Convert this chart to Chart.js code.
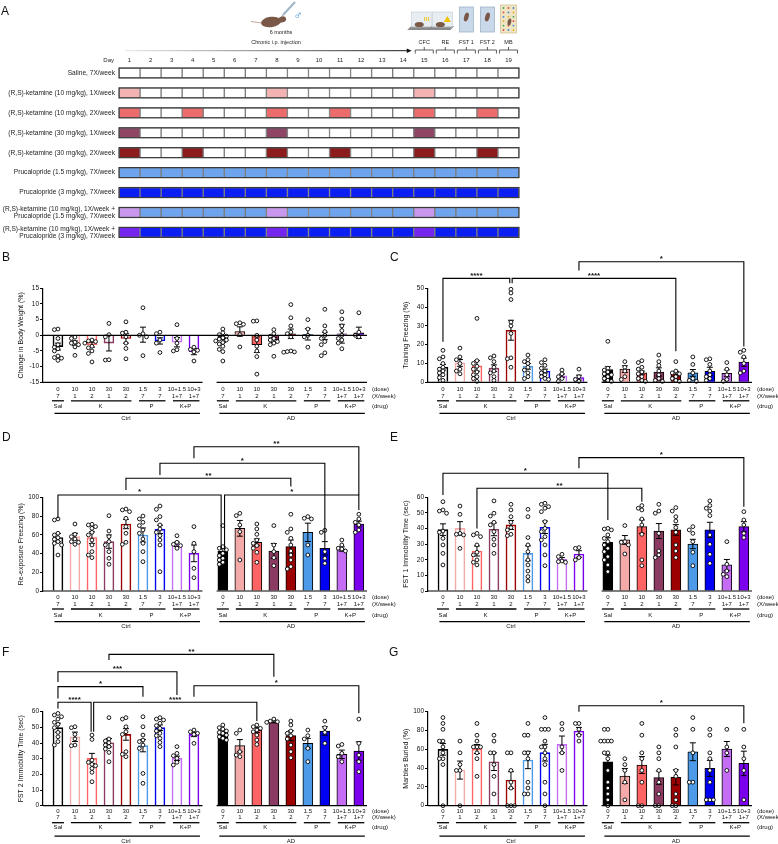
<!DOCTYPE html>
<html>
<head>
<meta charset="utf-8">
<title>Ketamine / prucalopride behaviour panels</title>
<script src="https://cdn.jsdelivr.net/npm/chart.js@4.4.1/dist/chart.umd.min.js"></script>
<style>
  html, body { margin: 0; padding: 0; background: #fff; }
  body { position: relative; width: 778px; height: 844px; overflow: hidden; }
  canvas { position: absolute; }
</style>
</head>
<body>
<script>
// ---------- panel A: dosing schedule ----------
var dayNumbers = [1, 2, 3, 4, 5, 6, 7, 8, 9, 10, 11, 12, 13, 14, 15, 16, 17, 18, 19];
var rowLabels = [
  'Saline, 7X/week',
  '(R,S)-ketamine (10 mg/kg), 1X/week',
  '(R,S)-ketamine (10 mg/kg), 2X/week',
  '(R,S)-ketamine (30 mg/kg), 1X/week',
  '(R,S)-ketamine (30 mg/kg), 2X/week',
  'Prucalopride (1.5 mg/kg), 7X/week',
  'Prucalopride (3 mg/kg), 7X/week',
  ['(R,S)-ketamine (10 mg/kg), 1X/week +', 'Prucalopride (1.5 mg/kg), 7X/week'],
  ['(R,S)-ketamine (10 mg/kg), 1X/week +', 'Prucalopride (3 mg/kg), 7X/week']
];
var ketDays1X = [1, 8, 15];
var ketDays2X = [1, 4, 8, 11, 15, 18];
var rowDoseDays = [[], ketDays1X, ketDays2X, ketDays1X, ketDays2X, [], [], ketDays1X, ketDays1X];
var testNames = ['CFC', 'RE', 'FST 1', 'FST 2', 'MB'];
var testDays = [15, 16, 17, 18, 19];

var rowBaseColor = ['#ffffff', '#ffffff', '#ffffff', '#ffffff', '#ffffff', '#6ea4ee', '#0b1ff2', '#6ea4ee', '#0b1ff2'];
var rowDoseColor = ['#ffffff', '#f4b3b3', '#ec6b6b', '#8f4565', '#8c1b1b', '#6ea4ee', '#0b1ff2', '#c898ee', '#7426ee'];

// ---------- panels B-G: shared x categories ----------
var doses = ['0', '10', '10', '30', '30', '1.5', '3', '10+1.5', '10+3'];
var perWeek = ['7', '1', '2', '1', '2', '7', '7', '1+7', '1+7'];
var drugGroups = [['Sal', 0, 0], ['K', 1, 4], ['P', 5, 6], ['K+P', 7, 8]];
var cohorts = ['Ctrl', 'AD'];
var barColors = ['#000000', '#f5aaaa', '#ff6363', '#8b3a62', '#9c0000', '#4d9be8', '#0000f2', '#c56cf5', '#7a00ee'];

// B: change in body weight (%)
var bwCtrlMean = [-3.6, -2.5, -3.0, -2.5, -1.0, 0.2, -1.8, -2.2, -5.2];
var bwCtrlSem = [1.1, 0.7, 0.8, 2.5, 1.5, 2.4, 1.0, 1.5, 1.0];
var bwAdMean = [-1.5, 1.2, -3.0, -1.5, 0.5, 0.3, -0.2, 0.5, 0.8];
var bwAdSem = [0.8, 1.5, 2.5, 0.8, 1.5, 1.8, 1.2, 3.0, 1.8];
var bwCtrlPts = [
  [2.0, 1.8, -1.0, -3.0, -3.8, -4.3, -5.0, -6.6, -7.1, -8.0, -7.3],
  [-0.6, -1.0, -2.2, -2.5, -3.0, -3.7, -6.4],
  [-1.5, -1.8, -2.0, -2.5, -3.5, -4.0, -5.0, -5.8, -8.5],
  [3.8, 0.2, -0.5, -7.9, -7.8],
  [4.3, 1.0, 0.7, -0.5, -2.5, -4.2, -7.5],
  [8.8, 0.5, 0.0, -0.5, -6.5],
  [1.0, 0.5, -1.5, -2.5, -5.5],
  [3.4, -1.0, -2.5, -5.0, -4.6],
  [-3.8, -4.5, -5.3, -4.8, -8.2]
];
var bwAdPts = [
  [2.0, 0.8, 0.2, -0.3, -0.8, -1.2, -1.5, -1.8, -2.3, -2.8, -3.5, -4.5, -5.2, -8.2],
  [4.0, 3.7, 3.5, 0.2, -3.7],
  [4.6, 4.5, 0.0, -1.5, -3.5, -5.0, -6.8, -12.4],
  [1.8, 0.5, -0.3, -1.0, -1.5, -2.0, -2.5, -3.0, -6.7],
  [9.8, 5.6, 3.0, 1.0, 0.5, -0.5, -5.0, -5.3, -5.4, -5.2],
  [5.0, 2.0, 0.0, -0.5, -3.8],
  [8.3, 3.0, 1.2, 0.0, -1.0, -2.0, -3.0, -5.6, -6.5],
  [7.5, 5.2, 3.0, 1.5, 0.0, -1.0, -1.5, -2.5, -4.3],
  [7.2, 1.0, 0.0, -0.5]
];

// C: training freezing (%)
var tfCtrlMean = [8.0, 10.3, 8.7, 7.5, 27.7, 8.5, 6.0, 3.5, 2.5];
var tfCtrlSem = [1.5, 1.8, 2.8, 1.8, 5.3, 1.5, 1.0, 0.9, 1.3];
var tfAdMean = [6.8, 7.0, 5.0, 5.5, 4.5, 5.0, 5.8, 4.8, 10.7];
var tfAdSem = [1.5, 1.8, 1.0, 2.2, 1.3, 1.8, 2.2, 1.8, 2.2];
var tfCtrlPts = [
  [17, 13.5, 12.5, 10, 8, 7, 6, 5, 4, 2.5, 1],
  [18.2, 13.5, 12, 10, 7, 6, 4.5],
  [34, 11.5, 10, 8.5, 7, 5.5, 4, 3, 2, 0.5],
  [14, 13, 11, 8, 6, 5, 3, 1],
  [49.5, 47.5, 44, 32, 30, 26, 13, 12.5, 8],
  [14.5, 12, 11, 10, 8, 6.5, 5, 3, 2],
  [12, 10.5, 9, 7.5, 6, 5, 4, 3, 2, 1.5],
  [6.5, 4.5, 3, 2, 0.5],
  [7, 3, 1.5, 0.5]
];
var tfAdPts = [
  [21.8, 7.5, 6.5, 5.5, 4.5, 4, 3, 2, 1, 0.5],
  [11, 8, 6, 3, 1.5],
  [11.5, 10.5, 8, 7, 5.5, 4.5, 3, 2, 1, 0.5],
  [14.5, 11, 9, 6, 4, 2, 1, 0.5],
  [11, 6, 5, 4.5, 3, 2, 1, 0.5],
  [13.5, 9.5, 5, 2, 1, 0.5],
  [12.5, 12, 9.5, 6, 4, 3, 2, 1],
  [10.5, 7, 4, 1.5, 0.5],
  [17, 16, 13.5, 10, 6, 5]
];

// D: re-exposure freezing (%)
var reCtrlMean = [57, 58, 57, 52.7, 71.5, 59.8, 65.8, 49.8, 40.2];
var reCtrlSem = [4.4, 3.6, 6.2, 7.1, 5.0, 7.5, 4.4, 2.3, 8.9];
var reAdMean = [42.7, 66.9, 52, 42.7, 47.3, 62.6, 45.6, 44.8, 71.5];
var reAdSem = [4.4, 8.4, 3.6, 8.0, 7.1, 9.8, 7.1, 2.3, 3.0];
var reCtrlPts = [
  [76.9, 75.8, 61.6, 59.8, 56.9, 55.2, 52.7, 50.9, 49.1, 38.4],
  [71.5, 60.5, 58, 55.5, 52.7, 52, 49.8],
  [71.2, 70.5, 68.7, 66.9, 62.6, 59.8, 54.4, 49.1, 42.0, 38.4, 35.6],
  [80.4, 64, 58, 52.7, 49.1, 42, 34.9, 28.5],
  [87.5, 86.5, 84.7, 77.6, 68.7, 61.6, 52, 49.8],
  [80, 76.9, 73.3, 69.8, 65.1, 61.6, 55.5, 50.9, 42, 31.3],
  [90.7, 87.2, 79.4, 75.8, 70.5, 66.2, 62.6, 59.1, 54.4, 49.1, 20.6],
  [59, 52, 49.8, 48.5, 45.6],
  [68.7, 50.9, 42, 24.2, 14.2]
];
var reAdPts = [
  [69.8, 47.3, 45.6, 44, 40.2, 37.7, 34.9, 33.1, 30.6, 28.5],
  [82.9, 80.4, 70.5, 63.3, 33.1],
  [71.5, 66.2, 60.5, 54.4, 50.9, 48.5, 45.6, 41.3, 30.6],
  [69.8, 49.1, 42, 35.6, 27],
  [81.9, 66.2, 62.6, 56.2, 49.1, 42.7, 38.4, 33.1, 26, 23.5],
  [79.4, 77.6, 76.9, 49.1, 38.4],
  [64.8, 62.6, 42, 34.9, 29.5],
  [54.4, 49.1, 45.6, 44.8, 42.7],
  [81.9, 76.9, 73.3, 70.5, 65.1, 62.6]
];

// E: FST 1 immobility (sec)
var f1CtrlMean = [39.3, 40.1, 25.6, 39.5, 42.3, 24.1, 40.8, 20.3, 23.7];
var f1CtrlSem = [3.7, 4.3, 3.2, 4.1, 2.9, 4.8, 4.0, 1.1, 2.1];
var f1AdMean = [31.2, 32.7, 41.2, 38.4, 39.1, 30.1, 39.1, 16.7, 41.2];
var f1AdSem = [2.9, 2.8, 4.3, 4.8, 3.4, 3.0, 4.9, 3.5, 3.2];
var f1CtrlPts = [
  [57.2, 51.9, 51.2, 49.8, 38.4, 37.6, 33.7, 29.5, 24.1, 16.7],
  [54.4, 49.1, 36.9, 36.3, 35.9, 27.3],
  [36.9, 35.9, 34.8, 29.5, 24.8, 23.1, 19.9, 18.4, 16.7],
  [57.7, 49.8, 48, 44, 42.3, 38, 33.1, 29.5, 24.1],
  [55.5, 51.9, 47.6, 44, 40.6, 39.1, 36.3, 35.4],
  [52.3, 47.6, 34.2, 29.5, 25.2, 19.9, 16.7, 12.8, 9.2, 6.4],
  [56.2, 55.5, 54, 53, 50.8, 44.4, 40.1, 38, 34.8, 32.7, 29.5, 23.1, 16.2],
  [23.5, 22, 19.2, 18.8, 18.4],
  [27.8, 27.3, 21.4, 19.9]
];
var f1AdPts = [
  [40.1, 39.7, 39.1, 35.9, 33.7, 31.6, 29.5, 27.3, 25.2, 22, 19.9, 16.7, 12.4],
  [41.9, 31.6, 31.2, 29.5, 23.7],
  [54.7, 53, 51.9, 46.1, 42.3, 36.3, 19.9, 16.2],
  [55.5, 51.2, 49.8, 36.9, 25.6, 23.1, 21.4],
  [53.4, 51.2, 47.6, 44.8, 40.6, 37.6, 29.5, 25.6, 21.4],
  [41.2, 39.1, 36.9, 31.6, 24.8, 16.2],
  [57.7, 54.7, 53, 51.2, 48.3, 35.9, 29.9, 23.5, 17.7],
  [31.6, 17.1, 12.8, 10.7, 9.2],
  [50.8, 45.5, 42.3, 36.9, 34.2]
];

// F: FST 2 immobility (sec)
var f2CtrlMean = [49.8, 44, 30.2, 40.2, 45.5, 38.3, 49.8, 30.2, 45.5];
var f2CtrlSem = [2.9, 3.0, 3.2, 2.7, 3.7, 3.9, 1.8, 1.4, 1.4];
var f2AdMean = [46.8, 38.3, 48.3, 53.6, 44.7, 39.8, 47.7, 32.8, 34.9];
var f2AdSem = [1.4, 3.9, 1.5, 0.7, 3.2, 3.2, 2.7, 2.7, 5.9];
var f2CtrlPts = [
  [58.9, 57.9, 56.8, 55.3, 53.2, 51.9, 49.8, 46.8, 44, 40.9, 38.7],
  [50.4, 49.8, 45.5, 42.6, 38.7, 38.3],
  [45.1, 42.3, 29.1, 27.7, 26.4, 25.5, 23.8, 21.3, 15.3],
  [56.2, 42.6, 41.3, 40.2, 38.7, 37.7, 36.2, 34, 28.1],
  [56.2, 55.3, 50.4, 47.2, 45.5, 34.5, 32.8, 31.3],
  [56.8, 50.4, 45.1, 41.9, 40.9, 38.7, 36.6, 20.6, 14.3],
  [56.2, 55.3, 54.7, 52.6, 51.1, 49.4, 47.7, 46.2, 44.7, 43, 40.4, 37.7],
  [37.7, 33.4, 31.9, 30.2, 27.7, 26],
  [48.3, 47.2, 46.2, 45.5, 39.8]
];
var f2AdPts = [
  [51.5, 49.8, 48.9, 47.7, 46.8, 46.2, 45.1, 44, 43, 41.9],
  [48.3, 46.2, 34.5, 32.3, 31.3],
  [51.5, 50.4, 49.4, 48.3, 47.2, 45.1, 41.9, 39.1],
  [55.3, 54, 53.6, 53.2],
  [54, 51.5, 47.7, 46.2, 44.7, 42.6, 38.7, 34.5, 30.6],
  [48.3, 44.7, 42.6, 36.6, 28.1],
  [54, 49.8, 46.8, 39.8],
  [39.1, 38.1, 33.4, 31.3, 28.1],
  [55.3, 39.8, 32.3, 28.1, 21.7]
];

// G: marbles buried (%)
var mbCtrlMean = [59.9, 37.9, 60.3, 46.8, 27.3, 48.6, 56.4, 65.2, 79.4];
var mbCtrlSem = [6.2, 9.6, 4.8, 9.4, 8.9, 9.2, 8.9, 8.9, 3.9];
var mbAdMean = [46.8, 31.6, 43.3, 29.8, 30.1, 57.4, 39.7, 60.3, 45];
var mbAdSem = [7, 8, 9, 7, 8, 9.5, 8.5, 8, 13];
var mbCtrlPts = [
  [93.75, 87.5, 81.25, 68.75, 68.75, 62.5, 56.25, 50, 50, 43.75, 0],
  [68.75, 56.25, 43.75, 37.5, 37.5, 0],
  [87.5, 75, 68.75, 62.5, 62.5, 62.5, 56.25, 50, 31.25],
  [75, 68.75, 56.25, 56.25, 43.75, 31.25, 12.5],
  [56.25, 56.25, 37.5, 25, 18.75, 0, 0, 0],
  [87.5, 75, 75, 56.25, 56.25, 50, 25, 18.75, 12.5, 12.5],
  [93.75, 81.25, 81.25, 81.25, 68.75, 62.5, 62.5, 56.25, 50, 43.75, 25, 12.5, 0],
  [87.5, 81.25, 62.5, 56.25, 37.5],
  [87.5, 87.5, 81.25, 75, 68.75]
];
var mbAdPts = [
  [81.25, 81.25, 68.75, 68.75, 68.75, 68.75, 56.25, 56.25, 50, 37.5, 25, 18.75, 12.5, 6.25, 0],
  [50, 43.75, 37.5, 25, 6.25],
  [87.5, 75, 56.25, 50, 37.5, 25, 0, 0],
  [62.5, 56.25, 50, 37.5, 25, 12.5, 0, 0],
  [81.25, 75, 62.5, 37.5, 31.25, 12.5, 6.25, 0, 0],
  [93.75, 81.25, 56.25, 25, 25],
  [81.25, 75, 56.25, 50, 37.5, 25, 6.25, 6.25, 6.25],
  [81.25, 62.5, 56.25, 37.5],
  [81.25, 62.5, 50, 37.5, 6.25]
];

// significance brackets: [from bar, to bar, line level, left tip, right tip, label]
var tfBrackets = [[0, 3.93, 55.3, 21.6, 52.7, '****'], [4.07, 13.7, 55.3, 52.7, 16.5, '****'], [8, 17.7, 64.1, 59.5, 19, '*']];
var reBrackets = [[0, 9.6, 102.5, 77.6, 43.8, '*'], [9.8, 17.7, 102.5, 43.8, 86.5, '*'], [4, 13.7, 120.3, 107.8, 111.4, '**'],
                  [6, 15.7, 136.3, 123.8, 52.7, '*'], [8, 17.7, 154, 141.6, 102.5, '**']];
var f1Brackets = [[0, 9.7, 75.4, 61.5, 45.5, '*'], [2, 11.7, 65.8, 40.1, 57.2, '**'], [8, 17.7, 85.4, 78.6, 54, '*']];
var f2Brackets = [[0, 1.95, 66, 62.1, 47.2, '****'], [2.1, 11.7, 66, 47.2, 54, '****'], [0, 5, 76, 68.5, 69.6, '*'],
                  [0, 7, 85.5, 79, 70.6, '***'], [3, 12.7, 96.6, 93, 82.3, '**'], [8, 17.7, 76.6, 69.6, 59, '*']];
var mbBrackets = [[8, 17.7, 106.4, 100, 87.6, '*']];

var AD_SHIFT = 9.7;
var X_MIN = -0.88, X_MAX = 18.18;
var FONT = '"Liberation Sans", Arial, sans-serif';
Chart.defaults.font.family = FONT;
Chart.defaults.color = '#111';

var panels = [
  {id: 'cB', letter: 'B', left: 0, top: 250, w: 400, h: 190, axisTop: 288.3, axisBot: 382.3, yMin: -15, yMax: 15, step: 5,
   title: 'Change in Body Weight (%)', mean: [bwCtrlMean, bwAdMean], sem: [bwCtrlSem, bwAdSem], pts: [bwCtrlPts, bwAdPts],
   brackets: [], rows: [7, 14, 18.5, 24.5, 31, 36.5], letterX: 2, letterY: 8},
  {id: 'cC', letter: 'C', left: 385, top: 250, w: 393, h: 190, axisTop: 288.3, axisBot: 382.3, yMin: 0, yMax: 50, step: 10,
   title: 'Training Freezing (%)', mean: [tfCtrlMean, tfAdMean], sem: [tfCtrlSem, tfAdSem], pts: [tfCtrlPts, tfAdPts],
   brackets: tfBrackets, rows: [7, 14, 18.5, 24.5, 31, 36.5], letterX: 5, letterY: 8},
  {id: 'cD', letter: 'D', left: 0, top: 430, w: 400, h: 210, axisTop: 497.3, axisBot: 591, yMin: 0, yMax: 100, step: 20,
   title: 'Re-exposure Freezing (%)', mean: [reCtrlMean, reAdMean], sem: [reCtrlSem, reAdSem], pts: [reCtrlPts, reAdPts],
   brackets: reBrackets, rows: [6.3, 13.3, 18, 24, 30.7, 35.5], letterX: 2, letterY: 8},
  {id: 'cE', letter: 'E', left: 385, top: 430, w: 393, h: 210, axisTop: 497.3, axisBot: 591, yMin: 0, yMax: 60, step: 10,
   title: 'FST 1 Immobility Time (sec)', mean: [f1CtrlMean, f1AdMean], sem: [f1CtrlSem, f1AdSem], pts: [f1CtrlPts, f1AdPts],
   brackets: f1Brackets, rows: [6.3, 13.3, 18, 24, 30.7, 35.5], letterX: 5, letterY: 8},
  {id: 'cF', letter: 'F', left: 0, top: 640, w: 400, h: 204, axisTop: 711.7, axisBot: 805.7, yMin: 0, yMax: 60, step: 10,
   title: 'FST 2 Immobility Time (sec)', mean: [f2CtrlMean, f2AdMean], sem: [f2CtrlSem, f2AdSem], pts: [f2CtrlPts, f2AdPts],
   brackets: f2Brackets, rows: [6, 12, 17, 21.5, 30.5, 36], letterX: 2, letterY: 13},
  {id: 'cG', letter: 'G', left: 385, top: 640, w: 393, h: 204, axisTop: 711.7, axisBot: 805.7, yMin: 0, yMax: 100, step: 20,
   title: 'Marbles Buried (%)', mean: [mbCtrlMean, mbAdMean], sem: [mbCtrlSem, mbAdSem], pts: [mbCtrlPts, mbAdPts],
   brackets: mbBrackets, rows: [6, 12, 17, 21.5, 30.5, 36], letterX: 4, letterY: 13}
];
var panelById = {};
panels.forEach(function (p) { panelById[p.id] = p; });

function addCanvas(id, left, top, w, h) {
  var c = document.createElement('canvas');
  c.id = id; c.width = w; c.height = h;
  c.style.left = left + 'px'; c.style.top = top + 'px';
  c.style.width = w + 'px'; c.style.height = h + 'px';
  document.body.appendChild(c);
  return c;
}

function seg(ctx, x0, y0, x1, y1) {
  ctx.beginPath(); ctx.moveTo(x0, y0); ctx.lineTo(x1, y1); ctx.stroke();
}

// spread dots sideways so they do not sit on top of each other
function swarm(vals, unitPx) {
  var out = vals.map(function () { return 0; });
  var placed = [];
  var cand = [0, -0.21, 0.21, -0.42, 0.42, -0.6, 0.6];
  var order = vals.map(function (v, i) { return i; }).sort(function (a, b) { return vals[b] - vals[a]; });
  order.forEach(function (i) {
    var py = vals[i] * unitPx;
    for (var k = 0; k < cand.length; k++) {
      var c = cand[k];
      var ok = placed.every(function (q) { return Math.hypot((q.x - c) * 17, q.y - py) >= 3.5; });
      if (ok || k === cand.length - 1) { out[i] = c; placed.push({x: c, y: py}); break; }
    }
  });
  return out;
}

var scheduleDeco = {
  id: 'scheduleDeco',
  afterDraw: function (chart) {
    var ctx = chart.ctx, x = chart.scales.x, y = chart.scales.y;
    ctx.save();
    // dark outline round every schedule row
    ctx.strokeStyle = '#3a3a3a'; ctx.lineWidth = 1.2;
    rowLabels.forEach(function (_, r) {
      var yc = y.getPixelForValue(r);
      ctx.strokeRect(x.getPixelForValue(0), yc - 5, x.getPixelForValue(19) - x.getPixelForValue(0), 10);
    });
    // day numbers
    ctx.fillStyle = '#222';
    ctx.font = '6px ' + FONT; ctx.textAlign = 'center'; ctx.textBaseline = 'middle';
    dayNumbers.forEach(function (d) { ctx.fillText(String(d), x.getPixelForValue(d - 0.5), 60); });
    ctx.textAlign = 'right';
    ctx.fillText('Day', 114, 60);
    // injection arrow
    var ax0 = x.getPixelForValue(0) + 6, ax1 = x.getPixelForValue(14) - 2;
    var g = ctx.createLinearGradient(ax0, 0, ax1, 0);
    g.addColorStop(0, '#e6e6e6'); g.addColorStop(1, '#111');
    ctx.strokeStyle = g; ctx.lineWidth = 1;
    seg(ctx, ax0, 50.7, ax1 - 3, 50.7);
    ctx.fillStyle = '#111';
    ctx.beginPath(); ctx.moveTo(ax1, 50.7); ctx.lineTo(ax1 - 5, 48.4); ctx.lineTo(ax1 - 5, 53); ctx.closePath(); ctx.fill();
    ctx.font = '5.5px ' + FONT; ctx.textAlign = 'center'; ctx.fillStyle = '#222';
    ctx.fillText('6 months', 281, 32.5);
    ctx.fillText('Chronic i.p. injection', 276, 42.5);
    // mouse with syringe
    ctx.strokeStyle = '#b88f86'; ctx.lineWidth = 0.8;
    seg(ctx, 262, 23, 251, 21.5);
    ctx.fillStyle = '#7a5847';
    ctx.beginPath(); ctx.ellipse(271, 22, 10, 5.2, -0.12, 0, Math.PI * 2); ctx.fill();
    ctx.beginPath(); ctx.ellipse(282, 19.5, 4.2, 3, -0.3, 0, Math.PI * 2); ctx.fill();
    ctx.strokeStyle = '#9fb4c8'; ctx.lineWidth = 2;
    seg(ctx, 283, 15, 295, 2);
    ctx.strokeStyle = '#666'; ctx.lineWidth = 0.6;
    seg(ctx, 281, 17, 283, 15);
    ctx.fillStyle = '#3d8fd6'; ctx.font = 'bold 12px ' + FONT;
    ctx.fillText('\u2642', 298, 16);
    // behaviour test icons, labels and brackets
    testDays.forEach(function (d, k) {
      var xl = x.getPixelForValue(d - 1), xr = x.getPixelForValue(d), xc = (xl + xr) / 2;
      ctx.fillStyle = '#222'; ctx.font = '5.5px ' + FONT; ctx.textAlign = 'center';
      ctx.fillText(testNames[k], xc, 42.5);
      ctx.strokeStyle = '#333'; ctx.lineWidth = 0.8;
      ctx.beginPath();
      ctx.moveTo(xl + 1.5, 53.5); ctx.lineTo(xl + 1.5, 50); ctx.lineTo(xr - 1.5, 50); ctx.lineTo(xr - 1.5, 53.5);
      ctx.moveTo(xc, 50); ctx.lineTo(xc, 47);
      ctx.stroke();
    });
    var cx = function (d) { return x.getPixelForValue(d - 0.5); };
    [15, 16].forEach(function (d, k) {
      var c = cx(d) - 5;
      ctx.fillStyle = '#8a8a8a';
      ctx.beginPath(); ctx.moveTo(c - 12, 30); ctx.lineTo(c + 10, 30); ctx.lineTo(c + 14, 26); ctx.lineTo(c - 8, 26); ctx.closePath(); ctx.fill();
      ctx.fillStyle = 'rgba(225,232,238,0.8)'; ctx.strokeStyle = '#c4ccd3'; ctx.lineWidth = 0.6;
      ctx.fillRect(c - 8, 12, 20, 15); ctx.strokeRect(c - 8, 12, 20, 15);
      ctx.fillStyle = '#7a5847';
      ctx.beginPath(); ctx.ellipse(c, 24.5, 4.5, 2.6, 0, 0, Math.PI * 2); ctx.fill();
      ctx.fillStyle = '#f2c200';
      if (k === 0) { ctx.fillRect(c + 5, 17, 0.8, 4); ctx.fillRect(c + 7, 17, 0.8, 4); ctx.fillRect(c + 9, 17, 0.8, 4); }
      else { ctx.beginPath(); ctx.moveTo(c + 7, 16); ctx.lineTo(c + 10.5, 22); ctx.lineTo(c + 3.5, 22); ctx.closePath(); ctx.fill(); }
    });
    [17, 18].forEach(function (d) {
      var c = cx(d);
      ctx.fillStyle = '#c9d9ea'; ctx.strokeStyle = '#9fb4c8'; ctx.lineWidth = 0.8;
      ctx.fillRect(c - 7, 7, 14, 25); ctx.strokeRect(c - 7, 7, 14, 25);
      ctx.fillStyle = '#7a5847';
      ctx.beginPath(); ctx.ellipse(c, 17, 2.2, 4.5, 0.3, 0, Math.PI * 2); ctx.fill();
    });
    var mc = cx(19);
    ctx.fillStyle = '#efe4c3'; ctx.strokeStyle = '#d3c496'; ctx.lineWidth = 0.8;
    ctx.fillRect(mc - 8, 5, 16, 28); ctx.strokeRect(mc - 8, 5, 16, 28);
    var marbleCols = ['#3aa35a', '#d94a3a', '#3d7fd6', '#e0b21f'];
    for (var r = 0; r < 6; r++) for (var c2 = 0; c2 < 3; c2++) {
      ctx.fillStyle = marbleCols[(r + c2) % 4];
      ctx.beginPath(); ctx.arc(mc - 5 + c2 * 5, 8 + r * 4.4, 0.9, 0, Math.PI * 2); ctx.fill();
    }
    ctx.fillStyle = '#7a5847';
    ctx.beginPath(); ctx.ellipse(mc + 1, 22, 1.8, 3.5, 0.2, 0, Math.PI * 2); ctx.fill();
    ctx.fillStyle = '#111'; ctx.font = '12px ' + FONT; ctx.textAlign = 'left'; ctx.textBaseline = 'middle';
    ctx.fillText('A', 1, 12);
    ctx.restore();
  }
};

addCanvas('cA', 0, 0, 778, 250);
new Chart(document.getElementById('cA'), {
  type: 'bar',
  data: {
    labels: rowLabels,
    datasets: dayNumbers.map(function (d) {
      return {
        label: 'Day ' + d,
        data: rowLabels.map(function () { return [d - 1, d]; }),
        backgroundColor: rowLabels.map(function (_, r) {
          return rowDoseDays[r].indexOf(d) >= 0 ? rowDoseColor[r] : rowBaseColor[r];
        }),
        borderColor: '#7d7d7d', borderWidth: 1, borderSkipped: false,
        barThickness: 10, grouped: false
      };
    })
  },
  options: {
    indexAxis: 'y', responsive: false, animation: false,
    layout: {padding: {top: 0, bottom: 5.4, left: 0, right: 259}},
    scales: {
      x: {
        type: 'linear', position: 'top', min: 0, max: 19,
        grid: {display: false, drawTicks: false}, border: {display: false},
        ticks: {display: false},
        afterFit: function (s) { s.height = 63; }
      },
      y: {
        grid: {display: false, drawTicks: false}, border: {display: false},
        ticks: {autoSkip: false, font: {size: 6.6, lineHeight: 1.1}, padding: 4, color: '#222'},
        afterFit: function (s) { s.width = 119; }
      }
    },
    plugins: {legend: {display: false}, tooltip: {enabled: false}}
  },
  plugins: [scheduleDeco]
});

var panelDeco = {
  id: 'panelDeco',
  afterDatasetDraw: function (chart, args) {
    if (args.index !== 1) return;
    var p = panelById[chart.canvas.id], ctx = chart.ctx, xs = chart.scales.x, ys = chart.scales.y;
    ctx.save();
    ctx.strokeStyle = '#000'; ctx.lineWidth = 1;
    [0, 1].forEach(function (c) {
      p.mean[c].forEach(function (m, i) {
        var px = xs.getPixelForValue((c ? AD_SHIFT : 0) + i);
        var t = ys.getPixelForValue(m + p.sem[c][i]), b = ys.getPixelForValue(m - p.sem[c][i]);
        ctx.beginPath();
        ctx.moveTo(px, t); ctx.lineTo(px, b);
        ctx.moveTo(px - 3, t); ctx.lineTo(px + 3, t);
        ctx.moveTo(px - 3, b); ctx.lineTo(px + 3, b);
        ctx.stroke();
      });
    });
    ctx.restore();
  },
  afterDraw: function (chart) {
    var p = panelById[chart.canvas.id], ctx = chart.ctx, a = chart.chartArea;
    var xs = chart.scales.x, ys = chart.scales.y;
    var X = function (v) { return xs.getPixelForValue(v); }, Y = function (v) { return ys.getPixelForValue(v); };
    ctx.save();
    ctx.strokeStyle = '#000'; ctx.fillStyle = '#111';
    // broken x axis, and the zero line where values go negative
    ctx.lineWidth = 1.2;
    seg(ctx, a.left, a.bottom, X(8.5), a.bottom);
    seg(ctx, X(AD_SHIFT - 0.37), a.bottom, a.right, a.bottom);
    if (p.yMin < 0) seg(ctx, a.left, Y(0), a.right, Y(0));
    // dose / frequency / drug / cohort labels
    var r = p.rows, b = a.bottom;
    ctx.font = '6px ' + FONT; ctx.textAlign = 'center'; ctx.textBaseline = 'middle';
    [0, AD_SHIFT].forEach(function (sh, c) {
      doses.forEach(function (d, i) {
        ctx.fillText(d, X(sh + i), b + r[0]);
        ctx.fillText(perWeek[i], X(sh + i), b + r[1]);
      });
      ctx.lineWidth = 1.3;
      drugGroups.forEach(function (gp) {
        var single = gp[1] === gp[2];
        seg(ctx, X(sh + gp[1]) - (single ? 6 : 4), b + r[2], X(sh + gp[2]) + (single ? 6 : 5.5), b + r[2]);
        ctx.fillText(gp[0], (X(sh + gp[1]) + X(sh + gp[2])) / 2, b + r[3]);
      });
      seg(ctx, X(sh) - 3.5, b + r[4], X(sh + 8) + 6, b + r[4]);
      ctx.fillText(cohorts[c], X(sh + 4), b + r[5]);
    });
    ctx.textAlign = 'left';
    ctx.fillText('(dose)', a.right + 5, b + r[0]);
    ctx.fillText('(X/week)', a.right + 5, b + r[1]);
    ctx.fillText('(drug)', a.right + 5, b + r[3]);
    // significance brackets
    ctx.lineWidth = 1.1; ctx.textAlign = 'center'; ctx.textBaseline = 'alphabetic';
    ctx.font = 'bold 8px ' + FONT;
    p.brackets.forEach(function (k) {
      var x0 = X(k[0]), x1 = X(k[1]), yl = Y(k[2]);
      ctx.beginPath();
      ctx.moveTo(x0, Y(k[3])); ctx.lineTo(x0, yl); ctx.lineTo(x1, yl); ctx.lineTo(x1, Y(k[4]));
      ctx.stroke();
      ctx.fillText(k[5], (x0 + x1) / 2, yl - 0.5);
    });
    ctx.font = '12px ' + FONT; ctx.textAlign = 'left'; ctx.textBaseline = 'middle';
    ctx.fillText(p.letter, p.letterX, p.letterY);
    ctx.restore();
  }
};

panels.forEach(function (p) {
  var canvas = addCanvas(p.id, p.left, p.top, p.w, p.h);
  var unitPx = (p.axisBot - p.axisTop) / (p.yMax - p.yMin);
  var bars = [], bg = [], bc = [], bw = [], dots = [];
  [0, 1].forEach(function (c) {
    p.mean[c].forEach(function (m, i) {
      var x = (c ? AD_SHIFT : 0) + i;
      bars.push({x: x, y: m});
      bg.push(c ? barColors[i] : '#ffffff');
      bc.push(c ? '#000000' : barColors[i]);
      bw.push(c ? 1 : 1.6);
      var vals = p.pts[c][i], off = swarm(vals, unitPx);
      vals.forEach(function (v, k) { dots.push({x: x + off[k], y: v}); });
    });
  });
  new Chart(canvas, {
    type: 'bar',
    data: {
      datasets: [
        {type: 'scatter', data: dots, order: 1, clip: false, pointRadius: 1.9,
         pointBackgroundColor: '#ffffff', pointBorderColor: '#000000', pointBorderWidth: 0.9},
        {type: 'bar', data: bars, order: 2, backgroundColor: bg, borderColor: bc, borderWidth: bw, barThickness: 10}
      ]
    },
    options: {
      responsive: false, animation: false,
      layout: {padding: {top: p.axisTop - p.top, bottom: p.top + p.h - p.axisBot, left: 0, right: p.w - 367}},
      scales: {
        x: {type: 'linear', min: X_MIN, max: X_MAX, offset: false, display: false},
        y: {
          min: p.yMin, max: p.yMax,
          ticks: {stepSize: p.step, font: {size: 6.5}, color: '#111', padding: 1},
          grid: {drawOnChartArea: false, color: '#000', tickLength: 3, lineWidth: 1},
          border: {color: '#000', width: 1.2},
          title: {display: true, text: p.title, font: {size: 7}, color: '#111', padding: {top: 17, bottom: 0}},
          afterFit: function (s) { s.width = 43; }
        }
      },
      plugins: {legend: {display: false}, tooltip: {enabled: false}}
    },
    plugins: [panelDeco]
  });
});
</script>
</body>
</html>
